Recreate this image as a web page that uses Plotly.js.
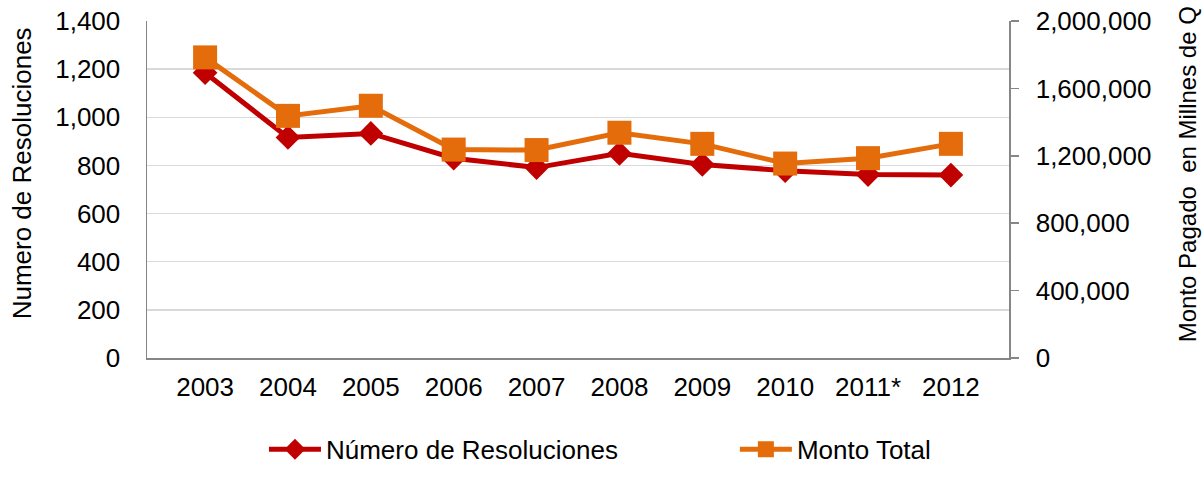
<!DOCTYPE html>
<html>
<head>
<meta charset="utf-8">
<script src="https://cdn.plot.ly/plotly-3.0.1.min.js"></script>
<style>html,body{margin:0;padding:0;background:#fff;}#chart{width:1203px;height:485px;}</style>
</head>
<body>
<div id="chart"></div>
<script>
const years = ["2003","2004","2005","2006","2007","2008","2009","2010","2011*","2012"];
const resoluciones = [1185, 916, 933, 830, 791, 850, 804, 778, 762, 760];
const montoTotal = [1784000, 1437000, 1497000, 1237000, 1234000, 1337000, 1271000, 1154000, 1186000, 1271000];
const leftTicks = [0, 200, 400, 600, 800, 1000, 1200, 1400];
const rightTicks = [0, 400000, 800000, 1200000, 1600000, 2000000];

const fmt = v => v.toLocaleString('en-US');
const sans = '"Liberation Sans", Arial, sans-serif';

const traces = [
  {
    x: years, y: resoluciones, name: 'Número de Resoluciones', type: 'scatter', mode: 'lines+markers',
    line: {color: '#C00000', width: 5},
    marker: {symbol: 'diamond', size: 19, color: '#C00000'},
    xaxis: 'x', yaxis: 'y', legend: 'legend'
  },
  {
    x: years, y: montoTotal, name: 'Monto Total', type: 'scatter', mode: 'lines+markers',
    line: {color: '#E46C0A', width: 5},
    marker: {symbol: 'square', size: 24, color: '#E46C0A'},
    xaxis: 'x', yaxis: 'y2', legend: 'legend2'
  }
];

const legendBase = {
  orientation: 'h', xanchor: 'left', y: -0.271, yanchor: 'middle',
  font: {family: sans, size: 26, color: '#000'},
  itemwidth: 52, bgcolor: 'rgba(0,0,0,0)'
};

const layout = {
  width: 1203, height: 485,
  margin: {l: 147, r: 194, t: 21, b: 110},
  paper_bgcolor: '#fff', plot_bgcolor: '#fff',
  font: {family: sans, color: '#000', size: 26},
  showlegend: true,
  legend: Object.assign({}, legendBase, {x: 0.1357}),
  legend2: Object.assign({}, legendBase, {x: 0.682}),
  xaxis: {
    type: 'category', showgrid: false, zeroline: false,
    showline: true, linecolor: '#868686', linewidth: 1.5,
    ticks: '', tickfont: {family: sans, size: 26, color: '#000'},
    ticklabelstandoff: 5, fixedrange: true
  },
  yaxis: {
    range: [0, 1400], tickmode: 'array', tickvals: leftTicks, ticktext: leftTicks.map(fmt),
    showgrid: true, gridcolor: '#D9D9D9', gridwidth: 1.5, zeroline: false,
    showline: true, linecolor: '#868686', linewidth: 1.5,
    ticks: '', tickfont: {family: sans, size: 26, color: '#000'},
    ticklabelstandoff: 20, fixedrange: true
  },
  yaxis2: {
    range: [0, 2000000], overlaying: 'y', side: 'right',
    tickmode: 'array', tickvals: rightTicks, ticktext: rightTicks.map(fmt),
    showgrid: false, zeroline: false,
    showline: true, linecolor: '#868686', linewidth: 1.5,
    ticks: 'outside', ticklen: 8, tickcolor: '#868686', tickwidth: 1.5,
    tickfont: {family: sans, size: 26, color: '#000'},
    ticklabelstandoff: 12, fixedrange: true
  },
  annotations: [
    {text: 'Numero de Resoluciones', xref: 'paper', yref: 'paper', x: -0.1450, xanchor: 'center',
     y: 0.548, yanchor: 'middle', textangle: -90, showarrow: false, font: {family: sans, size: 26, color: '#000'}},
    {text: 'Monto Pagado  en Millnes de Q', xref: 'paper', yref: 'paper', x: 1.208, xanchor: 'center',
     y: 0.546, yanchor: 'middle', textangle: -90, showarrow: false, font: {family: sans, size: 24, color: '#000'}}
  ]
};

Plotly.newPlot('chart', traces, layout, {displayModeBar: false, staticPlot: true});
</script>
</body>
</html>
